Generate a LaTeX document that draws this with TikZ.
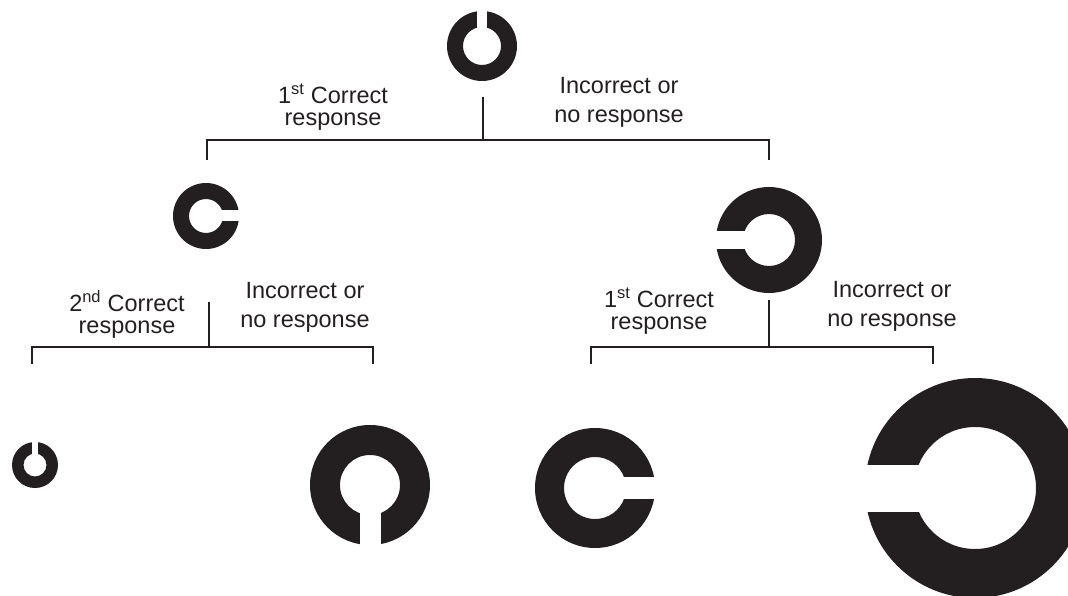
\documentclass[tikz,border=0pt]{standalone}
\usepackage{fontspec}
\setmainfont{Liberation Sans}
\definecolor{ink}{RGB}{35,31,32}
\tikzset{
  pics/landolt/.style n args={3}{code={
    \fill[ink,even odd rule] (0,0) circle (#1) (0,0) circle (#2);
    \fill[white] (0,-#3/2) rectangle (#1+2,#3/2);
  }},
  lbl/.style={align=center,inner sep=0pt,text=ink,font=\fontsize{23.5}{22}\selectfont},
  lblwide/.style={lbl,font=\fontsize{23.5}{29}\selectfont},
  br/.style={ink,line width=1.8pt}
}

\begin{document}
\begin{tikzpicture}[x=1pt,y=-1pt]
    \useasboundingbox (0,0) rectangle (1068,596);
    % rings
    \path
    (482,46) coordinate (top) pic[rotate=90] {landolt={35}{19}{10}}
    (206,216) coordinate (L) pic {landolt={33}{17}{11}}
    (769,240) coordinate (R) pic[rotate=180] {landolt={53}{26}{18}}
    (35,465) coordinate (LL) pic[rotate=90] {landolt={23}{11.5}{6}}
    (370,485) coordinate (LR) pic[rotate=-90] {landolt={60}{30}{21}}
    (595,488) coordinate (RL) pic {landolt={60}{31}{22}}
    (975,488) coordinate (RR) pic[rotate=180] {landolt={110}{61}{47}};
    % brackets
    \coordinate (top0) at (483,97);  \coordinate (top1) at (483,140);
    \coordinate (topa) at (207,140); \coordinate (topb) at (769,140);
    \coordinate (topc) at (207,160); \coordinate (topd) at (769,160);
    \coordinate (L0) at (209,302);   \coordinate (L1) at (209,347);
    \coordinate (La) at (32,347);    \coordinate (Lb) at (373,347);
    \coordinate (Lc) at (32,364);    \coordinate (Ld) at (373,364);
    \coordinate (R0) at (769,300);   \coordinate (R1) at (769,347);
    \coordinate (Ra) at (591,347);   \coordinate (Rb) at (933,347);
    \coordinate (Rc) at (591,364);   \coordinate (Rd) at (933,364);
    \draw[br]
    (top0) -- (top1) (topc) -- (topa) -- (topb) -- (topd)
    (L0) -- (L1) (Lc) -- (La) -- (Lb) -- (Ld)
    (R0) -- (R1) (Rc) -- (Ra) -- (Rb) -- (Rd);
    % labels
    \node[lbl] (topok) at (333,107) {1\textsuperscript{st} Correct\\response};
    \node[lblwide] (topno) at (619,102) {Incorrect or\\no response};
    \node[lbl] (Lok) at (127,314) {2\textsuperscript{nd} Correct\\response};
    \node[lblwide] (Lno) at (305,307) {Incorrect or\\no response};
    \node[lbl] (Rok) at (659,311) {1\textsuperscript{st} Correct\\response};
    \node[lblwide] (Rno) at (892,306) {Incorrect or\\no response};
  \end{tikzpicture}
\end{document}
